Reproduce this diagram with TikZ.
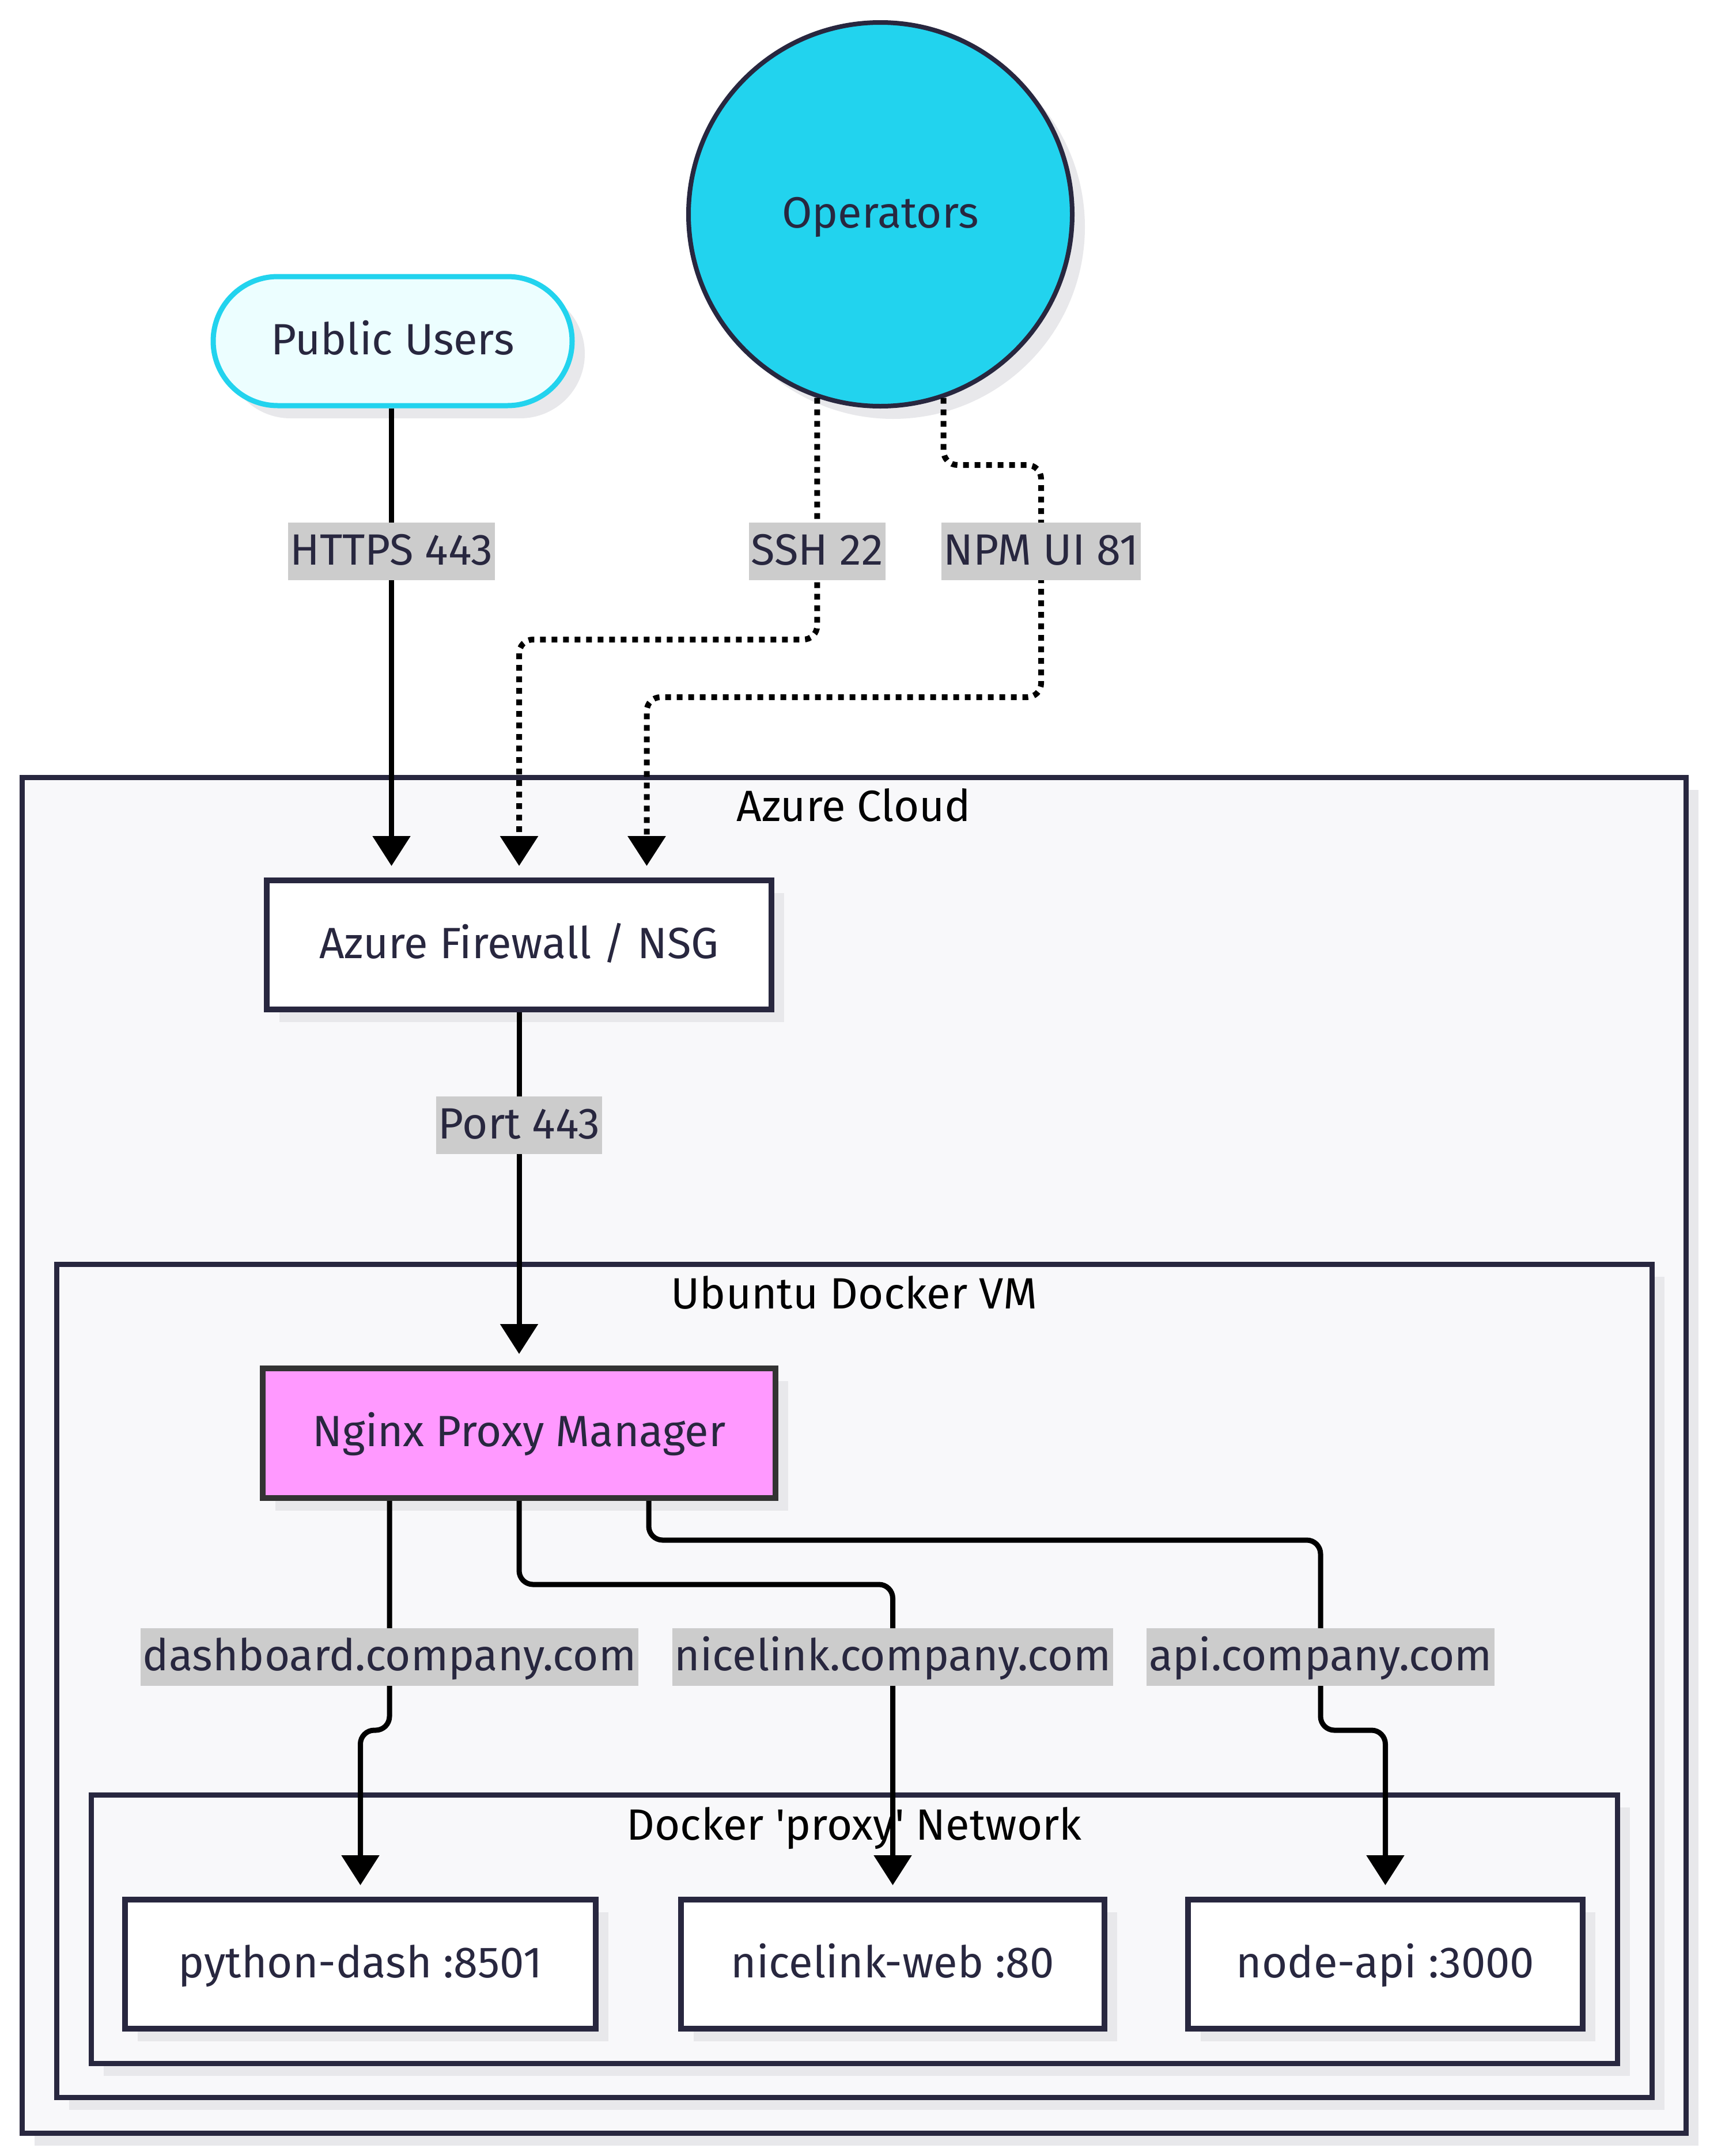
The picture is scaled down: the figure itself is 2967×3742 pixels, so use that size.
\documentclass[tikz,border=0pt]{standalone}
\usepackage{fontspec}
\setmainfont{Fira Sans}
\usetikzlibrary{arrows.meta,calc,shadows}
\definecolor{ink}{HTML}{28273F}
\definecolor{cyanfill}{HTML}{22D3EE}
\definecolor{pubfill}{HTML}{ECFEFF}
\definecolor{clusterfill}{HTML}{F8F8FA}
\definecolor{shadowc}{HTML}{E8E8EB}
\definecolor{npmfill}{HTML}{FF99FF}
\definecolor{labelfill}{HTML}{CCCCCC}
\definecolor{npmline}{HTML}{333333}
\newcommand{\bigfont}{\fontsize{76}{90}\selectfont}
\begin{document}
\begin{tikzpicture}[x=1pt,y=-1pt,
  shad/.style={drop shadow={shadow xshift=22pt,shadow yshift=-22pt,fill=shadowc,opacity=1}},
  txt/.style={font=\bigfont,text height=46pt,text depth=0pt},
  cluster/.style={draw=ink,line width=9pt,fill=clusterfill,inner sep=0pt,shad},
  ctitle/.style={txt,text=black,inner sep=0pt},
  box/.style={draw=ink,line width=10pt,fill=white,inner sep=0pt,minimum height=224pt,text=ink,txt,shad},
  elabel/.style={fill=labelfill,text=ink,txt,inner xsep=4pt,inner ysep=0pt,minimum height=100pt},
  edge/.style={draw=black,line width=9pt,rounded corners=24pt,-{Triangle[length=52pt,width=64pt]},shorten >=20pt},
  dotedge/.style={edge,line width=10pt,dash pattern=on 10pt off 10pt}
]
\useasboundingbox[fill=white] (0,0) rectangle (2967,3742);

% clusters
\node[cluster,minimum width=2888pt,minimum height=2353pt] (azure) at (1482,2525.5) {};
\node[ctitle] (azuret) at ($(azure.north)+(0,58)$) {Azure Cloud};
\node[cluster,minimum width=2769pt,minimum height=1446pt] (ubuntu) at (1482.5,2917) {};
\node[ctitle] (ubuntut) at ($(ubuntu.north)+(0,59)$) {Ubuntu Docker VM};
\node[cluster,minimum width=2649pt,minimum height=466pt] (docker) at (1482.5,3348) {};
\node[ctitle] (dockert) at ($(docker.north)+(0,60)$) {Docker \textquotesingle proxy\textquotesingle{} Network};

% nodes
\node[draw=cyanfill,line width=9pt,fill=pubfill,rounded corners=112pt,minimum width=623pt,minimum height=224pt,inner sep=0pt,text=ink,txt,shad] (pub) at (681.5,592) {Public Users};
\node[circle,draw=ink,line width=8pt,fill=cyanfill,minimum size=666pt,inner sep=0pt,text=ink,txt,shad] (ops) at (1528,372) {Operators};
\node[box,minimum width=876pt] (fw) at (901,1640) {Azure Firewall / NSG};
\node[box,draw=npmline,fill=npmfill,minimum width=890pt,minimum height=225pt] (npm) at (901,2487.5) {Nginx Proxy Manager};
\node[box,minimum width=817pt] (py) at (625.5,3409) {python-dash :8501};
\node[box,minimum width=735pt] (nl) at (1549.5,3409) {nicelink-web :80};
\node[box,minimum width=685pt] (na) at (2404.5,3409) {node-api :3000};

% anchor points
\coordinate (fw1) at ($(fw.north west)!0.25!(fw.north east)$);
\coordinate (fw2) at ($(fw.north west)!0.5!(fw.north east)$);
\coordinate (fw3) at ($(fw.north west)!0.75!(fw.north east)$);
\coordinate (np1) at ($(npm.south west)!0.25!(npm.south east)$);
\coordinate (np2) at ($(npm.south west)!0.5!(npm.south east)$);
\coordinate (np3) at ($(npm.south west)!0.75!(npm.south east)$);
\coordinate (sshA) at (ops.251);
\coordinate (npmA) at (ops.289);
\coordinate (pubA) at (pub.south -| fw1);

% edges
\draw[edge] (pubA) -- (fw1);
\draw[dotedge] (sshA) -- (sshA |- 0,1110) -- (fw2 |- 0,1110) -- (fw2);
\draw[dotedge] (npmA) -- (npmA |- 0,807) -- (1807,807) -- (1807,1210) -- (fw3 |- 0,1210) -- (fw3);
\draw[edge] (fw.south) -- (npm.north);
\draw[edge] (np1) -- (np1 |- 0,3003) -- (py.north |- 0,3003) -- (py.north);
\draw[edge] (np2) -- (np2 |- 0,2750) -- (nl.north |- 0,2750) -- (nl.north);
\draw[edge] (np3) -- (np3 |- 0,2673) -- (2292,2673) -- (2292,3003) -- (na.north |- 0,3003) -- (na.north);

% edge labels
\node[elabel] (l1) at (fw1 |- 0,957) {HTTPS 443};
\node[elabel] (l2) at (sshA |- 0,957) {SSH 22};
\node[elabel] (l3) at (1807,957) {NPM UI 81};
\node[elabel] (l4) at (fw.south |- 0,1953) {Port 443};
\node[elabel] (l5) at (np1 |- 0,2876) {dashboard.company.com};
\node[elabel] (l6) at (nl.north |- 0,2876) {nicelink.company.com};
\node[elabel] (l7) at (2292,2876) {api.company.com};
\end{tikzpicture}
\end{document}
